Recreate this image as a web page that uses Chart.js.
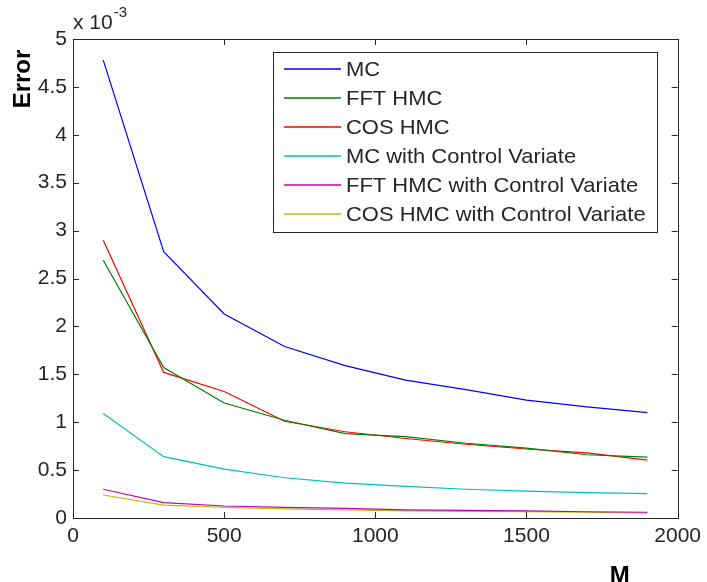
<!DOCTYPE html>
<html>
<head>
<meta charset="utf-8">
<script src="https://cdn.jsdelivr.net/npm/chart.js@4.4.0/dist/chart.umd.min.js"></script>
<style>
  html, body { margin: 0; padding: 0; background: #fff; }
  #wrap { width: 707px; height: 582px; }
</style>
</head>
<body>
<div id="wrap"><canvas id="line-chartcanvas"></canvas></div>
<script>
// sample sizes (x axis, M)
var sampleSizes = [100, 300, 500, 700, 900, 1100, 1300, 1500, 1700, 1900];

// errors, in units of 1e-3 (axis shows "x 10^-3")
var mcErr      = [4.78, 2.78, 2.13, 1.79, 1.59, 1.44, 1.34, 1.23, 1.16, 1.10];
var fftHmcErr  = [2.69, 1.57, 1.20, 1.02, 0.88, 0.85, 0.78, 0.73, 0.66, 0.635];
var cosHmcErr  = [2.90, 1.52, 1.32, 1.01, 0.90, 0.83, 0.77, 0.72, 0.68, 0.605];
var mcCvErr    = [1.09, 0.64, 0.51, 0.42, 0.365, 0.33, 0.30, 0.28, 0.265, 0.254];
var fftCvErr   = [0.30, 0.16, 0.125, 0.11, 0.10, 0.085, 0.08, 0.075, 0.065, 0.06];
var cosCvErr   = [0.24, 0.135, 0.11, 0.095, 0.085, 0.075, 0.07, 0.065, 0.06, 0.05];

var seriesNames = ["MC", "FFT HMC", "COS HMC", "MC with Control Variate",
                   "FFT HMC with Control Variate", "COS HMC with Control Variate"];
var seriesColors = ["#0000ff", "#008000", "#ff0000", "#00bfbf", "#bf00bf", "#bfbf00"];

// tick labels
var xTicks = [0, 500, 1000, 1500, 2000];
var yTicks = [0, 0.5, 1, 1.5, 2, 2.5, 3, 3.5, 4, 4.5, 5];

var FONT = "'Liberation Sans', Arial, Helvetica, sans-serif";
var INK = "#262626";

function toPoints(ys) {
  return sampleSizes.map(function (x, i) { return { x: x, y: ys[i] }; });
}

var allSeries = [mcErr, fftHmcErr, cosHmcErr, mcCvErr, fftCvErr, cosCvErr];
var datasets = allSeries.map(function (ys, i) {
  return {
    label: seriesNames[i],
    data: toPoints(ys),
    borderColor: seriesColors[i],
    backgroundColor: seriesColors[i],
    borderWidth: 1.2,
    fill: false,
    tension: 0,
    pointRadius: 0,
  };
});

// box, inward ticks, axis labels, exponent and legend (matlab look)
var matlabAxes = {
  id: "matlabAxes",
  afterDatasetsDraw: function (chart) {
    var c = chart.ctx;
    var a = chart.chartArea;
    var xs = chart.scales.x, ys = chart.scales.y;
    var tl = 6;
    c.save();
    c.strokeStyle = INK;
    c.lineWidth = 1;
    c.strokeRect(Math.round(a.left) + 0.5, Math.round(a.top) + 0.5,
                 Math.round(a.right - a.left), Math.round(a.bottom - a.top));
    c.beginPath();
    xs.ticks.forEach(function (t) {
      var px = Math.round(xs.getPixelForValue(t.value)) + 0.5;
      c.moveTo(px, a.bottom); c.lineTo(px, a.bottom - tl);
      c.moveTo(px, a.top); c.lineTo(px, a.top + tl);
    });
    ys.ticks.forEach(function (t) {
      var py = Math.round(ys.getPixelForValue(t.value)) + 0.5;
      c.moveTo(a.left, py); c.lineTo(a.left + tl, py);
      c.moveTo(a.right, py); c.lineTo(a.right - tl, py);
    });
    c.stroke();

    // exponent label
    c.fillStyle = INK;
    c.textBaseline = "alphabetic";
    c.textAlign = "left";
    c.font = "21px " + FONT;
    var base = "x 10";
    c.fillText(base, a.left, a.top - 10);
    var w = c.measureText(base).width;
    c.font = "15px " + FONT;
    c.fillText("-3", a.left + w + 1, a.top - 22);

    // axis titles
    c.font = "bold 24px " + FONT;
    c.fillStyle = "#000";
    c.textAlign = "center";
    c.fillText("M", a.right - 58, a.bottom + 65);
    c.save();
    c.translate(a.left - 50, a.top + 40);
    c.rotate(-Math.PI / 2);
    c.textBaseline = "middle";
    c.fillText("Error", 0, 0);
    c.restore();

    // legend
    var lx = a.left + 200, ly = a.top + 13, lw = 384, lh = 180;
    c.fillStyle = "#fff";
    c.fillRect(lx, ly, lw, lh);
    c.strokeStyle = INK;
    c.lineWidth = 1;
    c.strokeRect(lx + 0.5, ly + 0.5, lw, lh);
    c.font = "21px " + FONT;
    c.textAlign = "left";
    c.textBaseline = "middle";
    chart.data.datasets.forEach(function (ds, i) {
      var ry = Math.round(ly + 17 + i * 29);
      c.strokeStyle = ds.borderColor;
      c.lineWidth = 1.4;
      c.beginPath();
      c.moveTo(lx + 11, ry); c.lineTo(lx + 68, ry);
      c.stroke();
      c.fillStyle = INK;
      c.save();
      c.translate(lx + 73, ry + 1);
      c.scale(1.045, 1);
      c.fillText(ds.label, 0, 0);
      c.restore();
    });
    c.restore();
  },
};

var ctx = document.getElementById("line-chartcanvas");

var chart = new Chart(ctx, {
  type: "line",
  data: { datasets: datasets },
  options: {
    responsive: true,
    maintainAspectRatio: false,
    animation: false,
    layout: { padding: { left: 0, top: 39, right: 26, bottom: 0 } },
    plugins: { legend: { display: false }, tooltip: { enabled: false } },
    scales: {
      x: {
        type: "linear",
        min: 0,
        max: 2000,
        grid: { display: false, drawTicks: false },
        border: { display: false },
        afterBuildTicks: function (s) { s.ticks = xTicks.map(function (v) { return { value: v }; }); },
        afterFit: function (s) { s.height = 64; },
        ticks: {
          padding: 6,
          color: INK,
          font: { family: FONT, size: 21 },
          callback: function (v) { return String(v); },
        },
      },
      y: {
        type: "linear",
        min: 0,
        max: 5,
        grid: { display: false, drawTicks: false },
        border: { display: false },
        afterBuildTicks: function (s) { s.ticks = yTicks.map(function (v) { return { value: v }; }); },
        afterFit: function (s) { s.width = 73; },
        ticks: {
          padding: 6,
          color: INK,
          font: { family: FONT, size: 21 },
          callback: function (v) { return String(v); },
        },
      },
    },
  },
  plugins: [matlabAxes],
});
</script>
</body>
</html>
